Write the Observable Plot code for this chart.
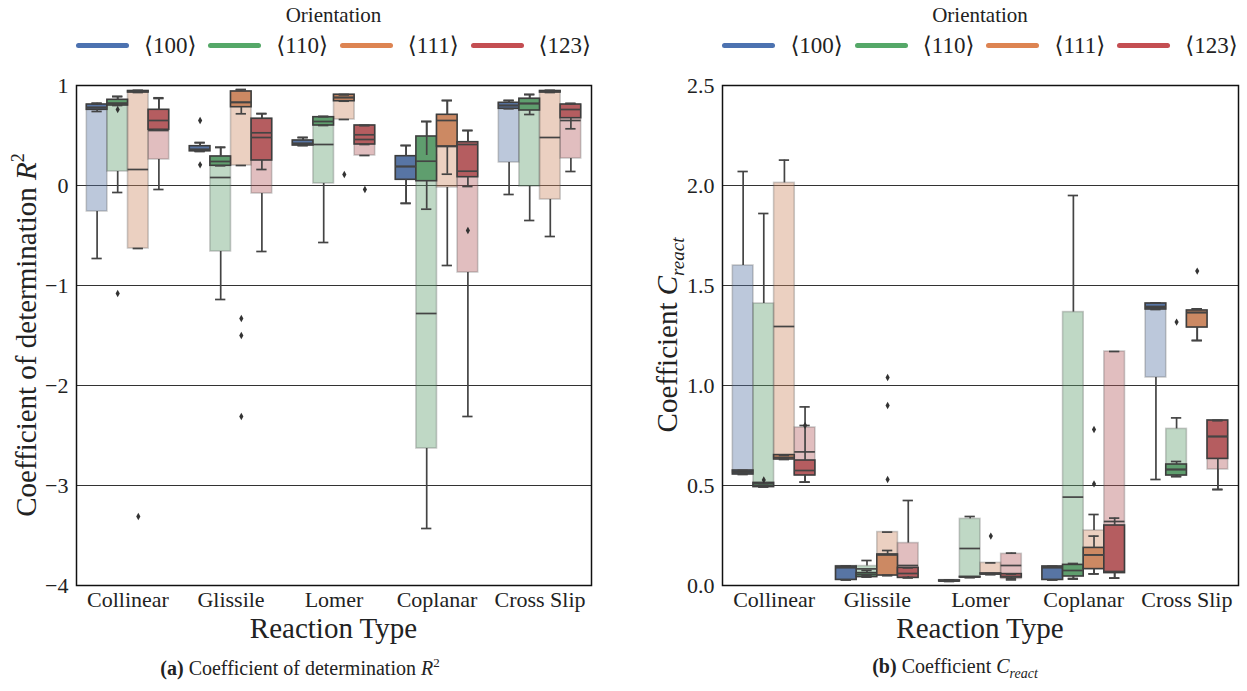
<!DOCTYPE html>
<html><head><meta charset="utf-8">
<script src="https://cdn.jsdelivr.net/npm/d3@7"></script>
<script src="https://cdn.jsdelivr.net/npm/@observablehq/plot@0.6"></script>
<style>
body{margin:0;background:#fff;font-family:"Liberation Serif","Times New Roman","DejaVu Serif",serif;color:#222;}
#root{position:relative;width:1247px;height:691px;overflow:hidden;background:#fff;}
.svgwrap{position:absolute;top:70px;}
.legend{position:absolute;top:0;height:70px;}
.legtitle{position:absolute;top:3px;width:100%;text-align:center;font-size:21px;}
.legrow{position:absolute;top:32px;width:100%;display:flex;justify-content:center;align-items:center;}
.swatch{width:53px;height:5px;border-radius:3px;margin-right:15px;}
.lab{font-size:23px;margin-right:12px;white-space:nowrap;}
.lab:last-child{margin-right:0}
.caption{position:absolute;top:655px;font-size:20px;transform:translateX(-50%);white-space:nowrap;}
</style></head>
<body><div id="root"></div>
<script>
const reactions = ["Collinear", "Glissile", "Lomer", "Coplanar", "Cross Slip"];
const orientations = ["⟨100⟩", "⟨110⟩", "⟨111⟩", "⟨123⟩"];
const legendColors = ["#4c72b0", "#55a868", "#dd8452", "#c44e52"];
const boxColors = ["#5875a4", "#5f9e6e", "#cc8963", "#b55d60"];

// [whisker low, q1, median, q3, whisker high], reaction-major, orientation-minor
const r2Faded = [
  [-0.73, -0.26, 0.78, 0.80, 0.82], [-0.07, 0.14, 0.82, 0.85, 0.89], [-0.63, -0.63, 0.16, 0.94, 0.95], [-0.04, 0.26, 0.55, 0.75, 0.87],
  [0.34, 0.34, 0.36, 0.39, 0.43], [-1.14, -0.66, 0.08, 0.29, 0.38], [0.20, 0.20, 0.83, 0.94, 0.96], [-0.66, -0.08, 0.48, 0.67, 0.72],
  [0.40, 0.40, 0.42, 0.45, 0.48], [-0.57, 0.02, 0.41, 0.68, 0.69], [0.66, 0.66, 0.88, 0.91, 0.91], [0.30, 0.30, 0.46, 0.60, 0.60],
  [-0.18, 0.06, 0.19, 0.29, 0.40], [-3.43, -2.63, -1.28, 0.30, 0.64], [-0.80, -0.02, 0.39, 0.70, 0.85], [-2.31, -0.87, 0.41, 0.43, 0.55],
  [-0.09, 0.23, 0.80, 0.82, 0.85], [-0.35, -0.01, 0.82, 0.87, 0.91], [-0.51, -0.14, 0.48, 0.94, 0.95], [0.14, 0.27, 0.65, 0.80, 0.82]
];
const r2Solid = [
  [0.74, 0.757, 0.78, 0.81, 0.823], [0.80, 0.80, 0.823, 0.857, 0.89], [0.93, 0.93, 0.94, 0.945, 0.95], [0.557, 0.557, 0.65, 0.757, 0.877],
  [0.343, 0.343, 0.36, 0.393, 0.427], [0.197, 0.197, 0.24, 0.29, 0.383], [0.717, 0.783, 0.833, 0.94, 0.957], [0.16, 0.25, 0.527, 0.667, 0.717],
  [0.40, 0.40, 0.42, 0.45, 0.48], [0.60, 0.60, 0.64, 0.683, 0.69], [0.843, 0.843, 0.88, 0.907, 0.907], [0.41, 0.41, 0.507, 0.60, 0.60],
  [-0.177, 0.057, 0.19, 0.293, 0.40], [-0.237, 0.043, 0.243, 0.49, 0.64], [0.113, 0.39, 0.65, 0.707, 0.85], [-0.01, 0.083, 0.143, 0.433, 0.55],
  [0.767, 0.767, 0.80, 0.827, 0.85], [0.71, 0.75, 0.82, 0.867, 0.91], [0.93, 0.93, 0.94, 0.945, 0.95], [0.567, 0.673, 0.76, 0.81, 0.82]
];
// [reaction index, orientation index, value]
const r2Outliers = [
  [0, 1, -1.08], [0, 2, -3.31], [0, 1, 0.76], [1, 0, 0.65], [1, 0, 0.207],
  [1, 2, -1.33], [1, 2, -1.50], [1, 2, -2.31], [2, 2, 0.11], [2, 3, -0.04], [3, 3, -0.45]
];

const cFaded = [
  [0.565, 0.565, 0.57, 1.60, 2.07], [0.50, 0.50, 0.51, 1.41, 1.86], [0.64, 0.64, 1.295, 2.013, 2.127], [0.517, 0.555, 0.668, 0.79, 0.893],
  [0.028, 0.028, 0.09, 0.097, 0.097], [0.048, 0.05, 0.083, 0.097, 0.125], [0.05, 0.05, 0.155, 0.267, 0.267], [0.04, 0.045, 0.10, 0.212, 0.425],
  [0.025, 0.025, 0.025, 0.027, 0.027], [0.04, 0.042, 0.185, 0.333, 0.345], [0.055, 0.058, 0.06, 0.113, 0.113], [0.028, 0.033, 0.10, 0.158, 0.162],
  [0.028, 0.028, 0.09, 0.095, 0.095], [0.035, 0.05, 0.442, 1.367, 1.95], [0.058, 0.082, 0.153, 0.275, 0.355], [0.037, 0.065, 0.32, 1.17, 1.17],
  [0.53, 1.04, 1.39, 1.41, 1.413], [0.545, 0.55, 0.58, 0.783, 0.838], [1.225, 1.29, 1.365, 1.375, 1.383], [0.48, 0.58, 0.745, 0.825, 0.825]
];
const cSolid = [
  [0.555, 0.555, 0.565, 0.575, 0.575], [0.492, 0.492, 0.50, 0.513, 0.513], [0.63, 0.63, 0.64, 0.652, 0.652], [0.517, 0.55, 0.575, 0.625, 0.80],
  [0.028, 0.028, 0.09, 0.095, 0.097], [0.042, 0.042, 0.055, 0.062, 0.075], [0.05, 0.05, 0.153, 0.155, 0.175], [0.038, 0.038, 0.06, 0.088, 0.088],
  [0.02, 0.02, 0.022, 0.025, 0.025], [0.04, 0.04, 0.042, 0.043, 0.043], [0.055, 0.055, 0.058, 0.06, 0.06], [0.035, 0.04, 0.045, 0.057, 0.057],
  [0.028, 0.028, 0.09, 0.095, 0.095], [0.032, 0.045, 0.075, 0.103, 0.11], [0.058, 0.082, 0.153, 0.188, 0.247], [0.037, 0.062, 0.07, 0.30, 0.337],
  [1.38, 1.38, 1.395, 1.41, 1.413], [0.545, 0.55, 0.58, 0.605, 0.62], [1.225, 1.29, 1.365, 1.375, 1.383], [0.48, 0.633, 0.745, 0.825, 0.825]
];
const cOutliers = [
  [0, 1, 0.528], [0, 3, 0.80], [1, 2, 1.04], [1, 2, 0.90], [1, 2, 0.53], [2, 2, 0.247],
  [3, 2, 0.78], [3, 2, 0.508], [4, 1, 1.317], [4, 2, 1.572]
];

const r2Ticks = [1, 0, -1, -2, -3, -4];
const cTicks = [0, 0.5, 1.0, 1.5, 2.0, 2.5];

const GROUP = 0.8, N = orientations.length, BW = GROUP / N;
function toRows(stats) {
  return stats.map((s, k) => {
    const i = Math.floor(k / N), j = k % N;
    const x1 = i - GROUP / 2 + j * BW;
    return {i, j, x1, x2: x1 + BW, xc: x1 + BW / 2, c1: x1 + BW / 4, c2: x1 + 3 * BW / 4,
      lo: s[0], q1: s[1], med: s[2], q3: s[3], hi: s[4]};
  });
}
function lineMarks(rows, o) {
  return [
    Plot.ruleX(rows, {x: "xc", y1: "q3", y2: "hi", ...o}),
    Plot.ruleX(rows, {x: "xc", y1: "q1", y2: "lo", ...o}),
    Plot.ruleY(rows, {x1: "c1", x2: "c2", y: "hi", ...o}),
    Plot.ruleY(rows, {x1: "c1", x2: "c2", y: "lo", ...o}),
    Plot.ruleY(rows, {x1: "x1", x2: "x2", y: "med", ...o})
  ];
}
const FONT = "Liberation Serif, Times New Roman, DejaVu Serif, serif";

function panel({faded, solid, outliers, ticks, domain, fmt, width, marginLeft, marginRight}) {
  const fr = toRows(faded), sr = toRows(solid);
  const lineStyle = {stroke: "#444", strokeWidth: 1.7};
  return Plot.plot({
    width, height: 575, marginLeft, marginRight, marginTop: 15, marginBottom: 60,
    style: {fontFamily: FONT, fontSize: "22px", color: "#222", background: "white"},
    x: {domain: [-0.5, 4.5], ticks: d3.range(reactions.length), tickFormat: i => reactions[i], tickSize: 0, tickPadding: 6, label: null},
    y: {domain, ticks, tickFormat: fmt, tickSize: 0, tickPadding: 8, label: null},
    color: {type: "ordinal", domain: d3.range(N), range: boxColors},
    marks: [
      Plot.ruleY(ticks, {stroke: "#333", strokeWidth: 1.1}),
      Plot.rect(fr, {x1: "x1", x2: "x2", y1: "q1", y2: "q3", fill: "j", fillOpacity: 0.4, stroke: "#555", strokeOpacity: 0.3, strokeWidth: 1.6}),
      Plot.rect(sr, {x1: "x1", x2: "x2", y1: "q1", y2: "q3", fill: "j", stroke: "#3d3d3d", strokeWidth: 1.6}),
      ...lineMarks(fr, lineStyle),
      ...lineMarks(sr, lineStyle),
      Plot.dot(outliers, {x: d => d[0] - GROUP / 2 + d[1] * BW + BW / 2, y: d => d[2], symbol: "diamond", r: 2.2, fill: "#333", stroke: "none"}),
      Plot.frame({stroke: "#111", strokeWidth: 1.5})
    ]
  });
}

const root = document.getElementById("root");

function addPanel({left, width, marginLeft, marginRight, plot, ylabel, ylabelX, caption, captionX}) {
  const wrap = document.createElement("div");
  wrap.className = "svgwrap";
  wrap.style.left = left + "px";
  wrap.appendChild(plot);
  root.appendChild(wrap);
  const svg = d3.select(plot.tagName.toLowerCase() === "svg" ? plot : plot.querySelector("svg"));
  const frameCx = marginLeft + (width - marginLeft - marginRight) / 2;
  const yl = svg.append("text")
    .attr("transform", `translate(${ylabelX},265) rotate(-90)`)
    .attr("text-anchor", "middle").attr("dy", "0.35em")
    .attr("font-size", 29).attr("fill", "#222").attr("font-family", FONT);
  ylabel(yl);
  svg.append("text").attr("x", frameCx).attr("y", 558).attr("text-anchor", "middle").attr("dy", "0.35em")
    .attr("font-size", 29).attr("fill", "#222").attr("font-family", FONT).text("Reaction Type");
  const leg = document.createElement("div");
  leg.className = "legend";
  leg.style.left = (left + marginLeft) + "px";
  leg.style.width = (width - marginLeft - marginRight) + "px";
  let html = `<div class="legtitle">Orientation</div><div class="legrow">`;
  orientations.forEach((o, j) => {
    html += `<div class="swatch" style="background:${legendColors[j]}"></div><div class="lab">${o}</div>`;
  });
  html += `</div>`;
  leg.innerHTML = html;
  root.appendChild(leg);
  const cap = document.createElement("div");
  cap.className = "caption";
  cap.style.left = captionX + "px";
  cap.innerHTML = caption;
  root.appendChild(cap);
}

const leftPlot = panel({faded: r2Faded, solid: r2Solid, outliers: r2Outliers, ticks: r2Ticks, domain: [-4, 1],
  fmt: d3.format("d"), width: 620, marginLeft: 76, marginRight: 29});
addPanel({left: 0, width: 620, marginLeft: 76, marginRight: 29, plot: leftPlot, ylabelX: 26,
  ylabel: t => { t.append("tspan").text("Coefficient of determination "); t.append("tspan").attr("font-style", "italic").text("R"); t.append("tspan").attr("font-size", 18).attr("dy", "-0.7em").text("2"); },
  caption: `<b>(a)</b> Coefficient of determination <i>R</i><sup style="font-size:13px">2</sup>`, captionX: 300});

const rightPlot = panel({faded: cFaded, solid: cSolid, outliers: cOutliers, ticks: cTicks, domain: [0, 2.5],
  fmt: d3.format(".1f"), width: 624, marginLeft: 99, marginRight: 9});
addPanel({left: 623, width: 624, marginLeft: 99, marginRight: 9, plot: rightPlot, ylabelX: 44,
  ylabel: t => { t.append("tspan").text("Coefficient "); t.append("tspan").attr("font-style", "italic").text("C"); t.append("tspan").attr("font-style", "italic").attr("font-size", 19).attr("dy", "0.35em").text("react"); },
  caption: `<b>(b)</b> Coefficient <i>C</i><sub style="font-size:14px"><i>react</i></sub>`, captionX: 955});
</script>
</body></html>
